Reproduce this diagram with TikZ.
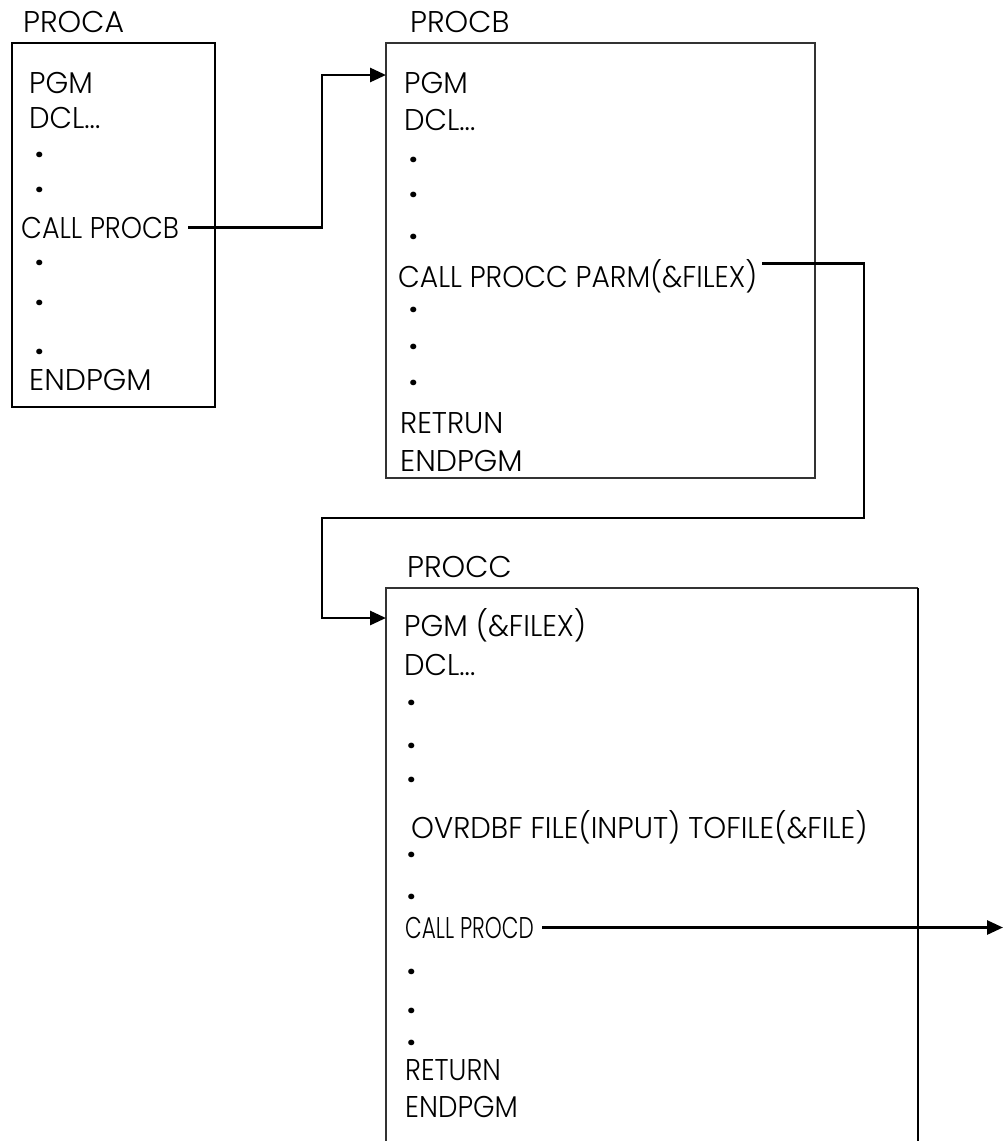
\documentclass[tikz,border=0pt]{standalone}
\usepackage{fontspec}
\setmainfont{Poppins}[UprightFont={* Light}]
\newfontfamily\dotfont{Poppins}[UprightFont={* Bold}]
\usepackage{graphicx}
\usetikzlibrary{arrows.meta}
\newcommand\sx[2]{\scalebox{#1}[1]{#2}}
\begin{document}
\begin{tikzpicture}[x=1pt,y=-1pt,
  txt/.style={anchor=base west, inner sep=0pt, font=\fontsize{30}{30}\selectfont},
  dotx/.style={anchor=base west, inner sep=0pt, text height=5pt, text depth=0pt, font=\fontsize{30}{30}\dotfont},
  lbl/.style={anchor=base west, inner sep=0pt, font=\fontsize{30}{30}\selectfont},
  conn/.style={line width=2.8pt, -{Triangle[length=16pt,width=14pt]}},
  boxa/.style={draw, line width=2.2pt, inner sep=0pt, outer sep=0pt},
  boxb/.style={draw=black!80, line width=1.3pt, inner sep=0pt, outer sep=0pt},
  boxc/.style={draw=none, inner sep=0pt, outer sep=0pt}]
\useasboundingbox (0,0) rectangle (1005,1141);

% ---------- PROCA ----------
\node[boxa, minimum width=203pt, minimum height=364pt] (A) at (113.5,225) {};
\node[lbl] (la) at (23,32) {PROCA};
\node[txt] (a1) at (29,93) {\sx{0.97}{PGM}};
\node[txt] (a2) at (29,128) {\sx{0.97}{DCL...}};
\node[dotx] (a3) at (35,157) {.};
\node[dotx] (a4) at (35,192) {.};
\node[txt] (callb) at (21,238) {\sx{0.9}{CALL PROCB}};
\node[dotx] (a6) at (35,265) {.};
\node[dotx] (a7) at (35,305) {.};
\node[dotx] (a8) at (35,354) {.};
\node[txt] (a9) at (29,390) {\sx{1.0}{ENDPGM}};

% ---------- PROCB ----------
\node[boxb, minimum width=429pt, minimum height=435pt] (B) at (600.5,260.5) {};
\node[lbl] (lb) at (410,32) {PROCB};
\node[txt] (b1) at (404,93) {\sx{0.97}{PGM}};
\node[txt] (b2) at (404,130) {\sx{0.97}{DCL...}};
\node[dotx] (b3) at (409,162) {.};
\node[dotx] (b4) at (409,197) {.};
\node[dotx] (b5) at (409,239) {.};
\node[txt] (callc) at (398,287) {\sx{0.94}{CALL PROCC PARM(\&FILEX)}};
\node[dotx] (b7) at (409,312) {.};
\node[dotx] (b8) at (409,349) {.};
\node[dotx] (b9) at (409,385) {.};
\node[txt] (b10) at (400,433) {\sx{0.97}{RETRUN}};
\node[txt] (b11) at (400,471) {\sx{1.0}{ENDPGM}};

% ---------- PROCC ----------
\node[boxc, minimum width=532pt, minimum height=564pt] (C) at (652,870) {};
\draw[draw=black!80, line width=1.3pt] (C.south west) -- (C.north west) -- (C.north east);
\draw[line width=2.8pt] (C.north east) -- (C.south east);
\node[lbl] (lc) at (407,577) {PROCC};
\node[txt] (c1) at (404,636) {\sx{0.97}{PGM (\&FILEX)}};
\node[txt] (c2) at (404,675) {\sx{0.97}{DCL...}};
\node[dotx] (c3) at (407,705) {.};
\node[dotx] (c4) at (407,748) {.};
\node[dotx] (c5) at (407,782) {.};
\node[txt] (c6) at (411,838) {\sx{0.97}{OVRDBF FILE(INPUT) TOFILE(\&FILE)}};
\node[dotx] (c7) at (407,857) {.};
\node[dotx] (c8) at (407,899) {.};
\node[txt] (calld) at (405,938) {\sx{0.72}{CALL PROCD}};
\node[dotx] (c10) at (407,974) {.};
\node[dotx] (c11) at (407,1013) {.};
\node[dotx] (c12) at (407,1045) {.};
\node[txt] (c13) at (405,1080) {\sx{0.9}{RETURN}};
\node[txt] (c14) at (405,1117) {\sx{0.92}{ENDPGM}};

% ---------- connectors ----------
\coordinate (jA) at (322,75);
\draw[conn] ([xshift=9pt]callb.east) -| (jA) -- (jA -| B.west);

\coordinate (r2) at (864,518);
\coordinate (l2) at (322,618);
\draw[conn] ([xshift=5pt,yshift=-5pt]callc.north east) -| (r2) -| (l2) -- (l2 -| C.west);

\coordinate (dout) at (1003,926);
\draw[conn] ([xshift=8pt]calld.east) -- (dout |- calld.east);
\end{tikzpicture}
\end{document}
